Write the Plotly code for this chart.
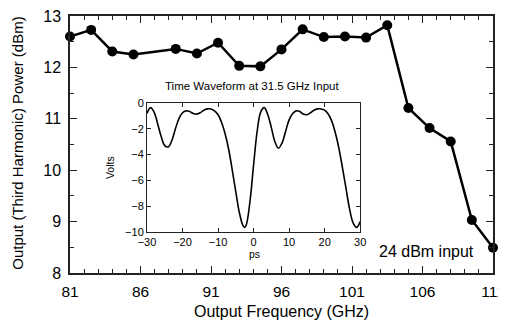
import plotly.graph_objects as go

# Main data: output frequency (GHz) vs third harmonic power (dBm)
freq_ghz = [81, 82.5, 84, 85.5, 88.5, 90, 91.5, 93, 94.5, 96, 97.5, 99, 100.5, 102,
            103.5, 105, 106.5, 108, 109.5, 111]
power_dbm = [12.60, 12.73, 12.31, 12.25, 12.36, 12.27, 12.48, 12.03, 12.02, 12.35,
             12.74, 12.59, 12.60, 12.58, 12.82, 11.21, 10.82, 10.56, 9.03, 8.49]

x_ticks = [81, 86, 91, 96, 101, 106, 111]
y_ticks = [8, 9, 10, 11, 12, 13]

# Inset: time waveform at 31.5 GHz input
time_ps = [-30, -29, -28, -27, -26, -25, -24, -23, -22, -21, -20, -19, -18, -17, -16,
           -15, -14, -13, -12, -11, -10, -9, -8, -7, -6, -5, -4, -3, -2.5, -2, -1, 0,
           1, 2, 3, 4, 5, 6, 7, 8, 9, 10, 11, 12, 13, 14, 15, 16, 17, 18, 19, 20, 21,
           22, 23, 24, 25, 26, 27, 28, 29, 30]
volts = [-0.8, -0.35, -0.7, -1.6, -2.6, -3.3, -3.4, -2.9, -2.0, -1.2, -0.75, -0.6,
         -0.65, -0.8, -0.85, -0.75, -0.55, -0.45, -0.45, -0.6, -0.9, -1.5, -2.4, -3.6,
         -5.2, -6.9, -8.5, -9.5, -9.65, -9.4, -7.6, -4.8, -2.2, -0.7, -0.35, -0.9,
         -1.9, -3.0, -3.5, -3.1, -2.2, -1.3, -0.8, -0.6, -0.65, -0.85, -0.9, -0.75,
         -0.55, -0.45, -0.45, -0.55, -0.85, -1.4, -2.3, -3.5, -5.0, -6.6, -8.2, -9.3,
         -9.65, -9.2]
inset_x_ticks = [-30, -20, -10, 0, 10, 20, 30]
inset_y_ticks = [0, -2, -4, -6, -8, -10]

FONT = "Liberation Sans, Arial, Helvetica, sans-serif"

fig = go.Figure()
fig.add_trace(go.Scatter(
    x=freq_ghz, y=power_dbm, mode="lines+markers",
    line=dict(color="black", width=2.5),
    marker=dict(color="black", size=10),
    xaxis="x", yaxis="y", showlegend=False, cliponaxis=False))
fig.add_trace(go.Scatter(
    x=time_ps, y=volts, mode="lines", line=dict(color="black", width=1.6, shape="spline"),
    xaxis="x2", yaxis="y2", showlegend=False))

axis_common = dict(showgrid=False, zeroline=False, showline=True, linecolor="#222",
                   linewidth=1.5, mirror="allticks", ticks="inside", tickcolor="#222",
                   automargin=False, ticklabeloverflow="allow")


def note(text, x, y, size, angle=0):
    return dict(text=text, xref="paper", yref="paper", x=x, y=y, xanchor="center",
                yanchor="middle", textangle=angle, showarrow=False,
                font=dict(size=size))


# The page body has an 8px margin; keep the page inside the window (no scrollbars)
fig.update_layout(
    width=498, height=312,
    margin=dict(l=62, r=13, t=8, b=47),
    paper_bgcolor="white", plot_bgcolor="white",
    font=dict(family=FONT, color="black", size=15),
    xaxis=dict(range=[81, 111], tickvals=x_ticks, ticklen=7, tickwidth=1.2,
               minor=dict(dtick=1, ticklen=4, ticks="inside", tickcolor="#222"),
               tickfont=dict(size=15.5), ticklabelstandoff=4, **axis_common),
    yaxis=dict(range=[8, 13], tickvals=y_ticks, ticklen=7, tickwidth=1.2,
               minor=dict(dtick=0.5, ticklen=4, ticks="inside", tickcolor="#222"),
               tickfont=dict(size=16), ticklabelstandoff=4, **axis_common),
    xaxis2=dict(domain=[0.182, 0.686], anchor="y2", range=[-30, 30],
                tickvals=inset_x_ticks, ticklen=4, tickwidth=1,
                tickfont=dict(size=11), **{**axis_common, "linewidth": 1}),
    yaxis2=dict(domain=[0.160, 0.661], anchor="x2", range=[-10, 0],
                tickvals=inset_y_ticks, ticklen=4, tickwidth=1,
                tickfont=dict(size=11), **{**axis_common, "linewidth": 1}),
    annotations=[
        note("Output Frequency (GHz)", 0.501, -0.150, 16),
        note("Output (Third Harmonic) Power (dBm)", -0.124, 0.505, 15, -90),
        note("Time Waveform at 31.5 GHz Input", 0.430, 0.728, 11.5),
        note("Volts", 0.095, 0.409, 10.5, -90),
        note("ps", 0.437, 0.074, 10.5),
        note("24 dBm input", 0.842, 0.083, 16),
    ],
)

fig.write_html("out.html")
